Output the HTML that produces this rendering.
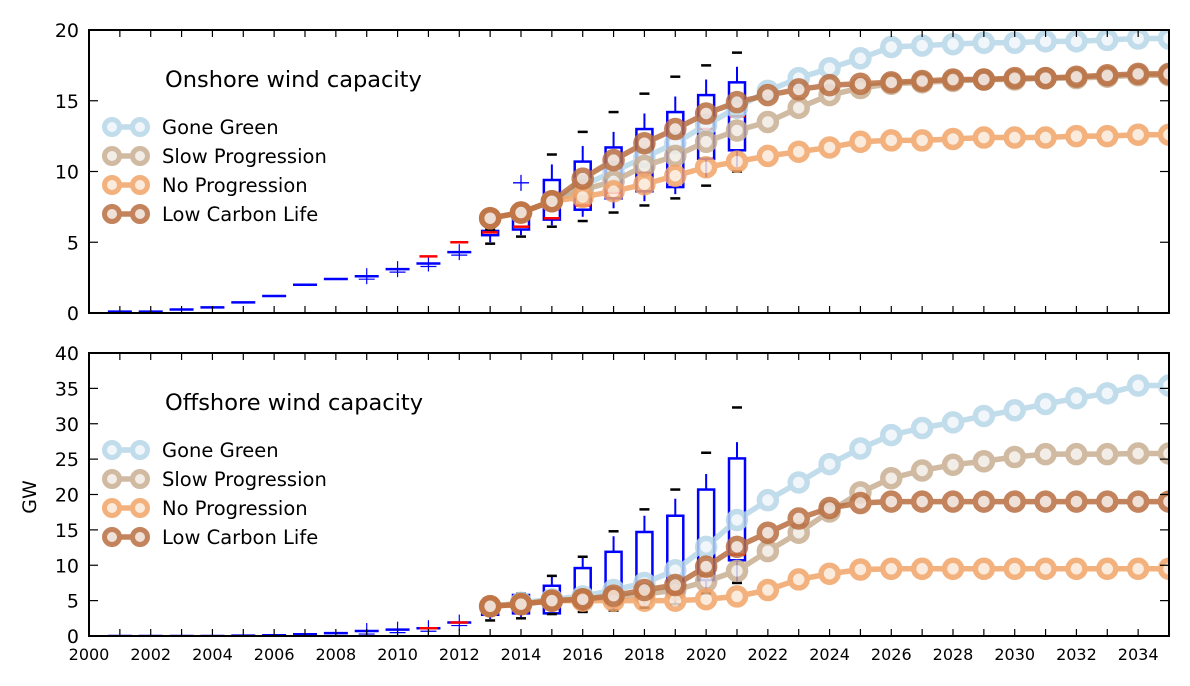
<!DOCTYPE html>
<html><head><meta charset="utf-8"><style>
body{margin:0;background:#fff;}
svg{display:block;font-family:"DejaVu Sans","Liberation Sans",sans-serif;}
</style></head><body>
<svg id="c" width="1190" height="686" viewBox="0 0 1190 686"></svg>
<script>
const years = [2013,2014,2015,2016,2017,2018,2019,2020,2021,2022,2023,2024,2025,2026,2027,2028,2029,2030,2031,2032,2033,2034,2035];
const seriesNames = ["Gone Green","Slow Progression","No Progression","Low Carbon Life"];
const onGG  = [6.7,7.1,7.9,9.0,10.0,11.0,12.0,13.3,14.5,15.7,16.6,17.3,18.0,18.8,18.9,19.0,19.1,19.1,19.2,19.2,19.3,19.4,19.4];
const onSP  = [6.7,7.1,7.9,8.7,9.3,10.4,11.1,12.1,12.9,13.5,14.5,15.4,15.9,16.2,16.3,16.4,16.5,16.5,16.6,16.6,16.7,16.8,16.8];
const onNP  = [6.7,7.1,7.9,8.2,8.6,9.1,9.7,10.3,10.7,11.1,11.4,11.7,12.1,12.2,12.2,12.3,12.4,12.4,12.4,12.5,12.5,12.6,12.6];
const onLCL = [6.7,7.1,7.9,9.5,10.8,12.0,13.0,14.1,14.9,15.4,15.8,16.1,16.2,16.3,16.4,16.5,16.5,16.6,16.6,16.7,16.8,16.9,16.9];
const offGG  = [4.2,4.7,5.2,5.6,6.5,7.5,9.3,12.6,16.4,19.2,21.7,24.3,26.5,28.4,29.4,30.2,31.1,31.9,32.8,33.6,34.3,35.4,35.4];
const offSP  = [4.2,4.5,5.0,5.2,5.5,5.9,6.5,7.7,9.2,12.0,14.6,17.6,20.3,22.3,23.4,24.2,24.7,25.3,25.7,25.7,25.7,25.8,25.8];
const offNP  = [4.2,4.5,5.0,5.0,5.0,5.0,5.0,5.2,5.6,6.5,8.0,8.8,9.4,9.5,9.5,9.5,9.5,9.5,9.5,9.5,9.5,9.5,9.5];
const offLCL = [4.2,4.5,5.0,5.2,5.7,6.5,7.2,9.8,12.6,14.6,16.6,18.1,18.8,19.0,19.0,19.0,19.0,19.0,19.0,19.0,19.0,19.0,19.0];
// boxplots
const boxYears = [2013,2014,2015,2016,2017,2018,2019,2020,2021];
const onQ1  = [5.5,5.9,6.6,7.3,8.1,8.6,8.9,10.9,11.5];
const onQ3  = [5.8,6.7,9.4,10.7,11.7,13.0,14.2,15.4,16.3];
const onMed = [5.7,6.1,6.7,7.6,8.5,9.9,11.5,13.0,13.9];
const onWLo = [5.0,5.5,6.2,6.8,7.4,7.9,8.4,9.6,10.3];
const onWHi = [6.0,7.2,10.5,11.8,12.8,14.1,15.3,16.5,17.4];
const onMin = [4.9,5.4,6.1,6.5,7.1,7.6,8.1,9.0,10.0];
const onMax = [5.9,7.5,11.2,12.8,14.2,15.5,16.7,17.5,18.4];
const offQ1  = [3.0,3.2,3.2,5.0,5.0,5.5,6.0,7.9,10.7];
const offQ3  = [4.0,5.8,7.1,9.6,11.9,14.7,17.0,20.7,25.1];
const offMed = [3.4,4.5,5.0,5.2,5.5,6.0,6.8,8.5,11.5];
const offWLo = [2.4,2.7,3.2,3.5,3.7,4.0,4.5,6.0,7.6];
const offWHi = [4.6,6.0,8.5,11.2,14.1,17.0,19.4,22.9,27.4];
const offMin = [2.2,2.5,3.1,3.4,3.6,4.0,4.5,6.0,7.5];
const offMax = [4.6,6.0,8.5,11.2,14.8,17.9,20.7,25.9,32.3];
// historic
const histYears = [2001,2002,2003,2004,2005,2006,2007,2008,2009,2010,2011,2012];
const onHist  = [0.1,0.1,0.25,0.4,0.75,1.2,2.0,2.4,2.6,3.1,3.5,4.3];
const onHistRed = [null,null,null,null,null,null,null,null,null,null,4.0,5.0];
const offHist = [0,0,0,0,0.05,0.1,0.25,0.4,0.7,0.9,1.1,1.9];
const offHistRed = [null,null,null,null,null,null,null,null,null,null,1.1,1.9];
const xTicks = [2000,2002,2004,2006,2008,2010,2012,2014,2016,2018,2020,2022,2024,2026,2028,2030,2032,2034];
const onYTicks = [0,5,10,15,20];
const offYTicks = [0,5,10,15,20,25,30,35,40];

const NS="http://www.w3.org/2000/svg";
const svg=document.getElementById('c');
const X0=89,X1=1169;
const xs=y=>X0+(y-2000)*(X1-X0)/35;
function mk(t,a,p){const e=document.createElementNS(NS,t);for(const k in a)e.setAttribute(k,a[k]);(p||svg).appendChild(e);return e;}
const colors=["#b7d6e8","#c8ae92","#f2a468","#b96e40"];
const fills=["#eef5fa","#f2ebe3","#fbe8d8","#eddcd2"];

function panel(name,top,bot,ymax,ticks,series,Q1,Q3,Med,WLo,WHi,Mn,Mx,hist,histRed,title,showX){
  const g=mk('g',{});
  
  
  const ys=v=>bot-(v/ymax)*(bot-top);
  const clipId='clip-'+name;
  const cp=mk('clipPath',{id:clipId},g);mk('rect',{x:X0,y:top,width:X1-X0,height:bot-top},cp);
  const pg=mk('g',{'clip-path':'url(#'+clipId+')'},g);
  histYears.forEach((yr,i)=>{
    const x=xs(yr),y=ys(hist[i]);
    const l=mk('line',{x1:x-12,x2:x+12,y1:y,y2:y,stroke:'#0000ff','stroke-width':2.5},pg);
    
    
    if(yr>=2009){mk('line',{x1:x,x2:x,y1:y-8,y2:y+8,stroke:'#0000ff','stroke-width':1.2},pg);mk('line',{x1:x-8,x2:x+8,y1:y+3,y2:y+3,stroke:'#0000ff','stroke-width':1.2},pg);}
    if(histRed[i]!=null){const yr2=ys(histRed[i]);mk('line',{x1:x-9,x2:x+9,y1:yr2,y2:yr2,stroke:'#ff0000','stroke-width':2.5},pg);}
  });
  boxYears.forEach((yr,i)=>{
    const x=xs(yr),w=16;
    const bg=mk('g',{},pg);
    
    
    mk('line',{x1:x,x2:x,y1:ys(WHi[i]),y2:ys(Q3[i]),stroke:'#0000ff','stroke-width':2},bg);
    mk('line',{x1:x,x2:x,y1:ys(WLo[i]),y2:ys(Q1[i]),stroke:'#0000ff','stroke-width':2},bg);
    mk('rect',{x:x-w/2,y:ys(Q3[i]),width:w,height:Math.max(2,ys(Q1[i])-ys(Q3[i])),fill:'none',stroke:'#0000ff','stroke-width':2.5},bg);
    mk('line',{x1:x-w/2,x2:x+w/2,y1:ys(Med[i]),y2:ys(Med[i]),stroke:'#ff0000','stroke-width':2.5},bg);
    mk('line',{x1:x-5,x2:x+5,y1:ys(Mx[i]),y2:ys(Mx[i]),stroke:'#000','stroke-width':2.5},bg);
    mk('line',{x1:x-5,x2:x+5,y1:ys(Mn[i]),y2:ys(Mn[i]),stroke:'#000','stroke-width':2.5},bg);
  });
  if(name==='onshore'){const x=xs(2014),y=ys(9.2);mk('path',{d:`M${x-8} ${y}H${x+8}M${x} ${y-8}V${y+8}`,stroke:'#0000ff','stroke-width':1.3},pg);}
  series.forEach((s,k)=>{
    const sg=mk('g',{opacity:0.85},pg);
    
    
    mk('polyline',{points:years.map((yr,i)=>xs(yr)+','+ys(s[i])).join(' '),fill:'none',stroke:colors[k],'stroke-width':5.5},sg);
    years.forEach((yr,i)=>{const c=mk('circle',{cx:xs(yr),cy:ys(s[i]),r:8.5,fill:fills[k],stroke:colors[k],'stroke-width':5.5},sg);
      
      });
  });
  mk('rect',{x:X0,y:top,width:X1-X0,height:bot-top,fill:'none',stroke:'#000','stroke-width':2},g);
  for(let yr=2001;yr<=2034;yr++){const x=xs(yr);
    mk('line',{x1:x,x2:x,y1:bot,y2:bot-7,stroke:'#000','stroke-width':1.2},g);
    mk('line',{x1:x,x2:x,y1:top,y2:top+7,stroke:'#000','stroke-width':1.2},g);}
  ticks.forEach(v=>{const y=ys(v);
    mk('line',{x1:X0,x2:X0+9,y1:y,y2:y,stroke:'#000','stroke-width':1.2},g);
    mk('line',{x1:X1,x2:X1-9,y1:y,y2:y,stroke:'#000','stroke-width':1.2},g);
    const t=mk('text',{x:X0-10,y:y+7,'text-anchor':'end','font-size':19},g);t.textContent=v;
    
    });
  if(showX){xTicks.forEach(v=>{const t=mk('text',{x:xs(v),y:bot+24,'text-anchor':'middle','font-size':16},g);t.textContent=v;
    
    });}
  const tt=mk('text',{x:165,y:top+57,'font-size':22.5},g);tt.textContent=title;
  
  
  seriesNames.forEach((n,k)=>{
    const ly=top+97+k*29;
    const lg=mk('g',{opacity:0.85},g);
    
    
    mk('line',{x1:112,x2:140,y1:ly,y2:ly,stroke:colors[k],'stroke-width':5.5},lg);
    mk('circle',{cx:112,cy:ly,r:7.5,fill:fills[k],stroke:colors[k],'stroke-width':5},lg);
    mk('circle',{cx:140,cy:ly,r:7.5,fill:fills[k],stroke:colors[k],'stroke-width':5},lg);
    const t=mk('text',{x:162,y:ly+7,'font-size':19.5},g);t.textContent=n;
  });
}
panel('onshore',30,313,20,onYTicks,[onGG,onSP,onNP,onLCL],onQ1,onQ3,onMed,onWLo,onWHi,onMin,onMax,onHist,onHistRed,'Onshore wind capacity',false);
panel('offshore',353,636,40,offYTicks,[offGG,offSP,offNP,offLCL],offQ1,offQ3,offMed,offWLo,offWHi,offMin,offMax,offHist,offHistRed,'Offshore wind capacity',true);
const gw=mk('text',{x:36,y:497,'font-size':19,'text-anchor':'middle',transform:'rotate(-90 36 497)'});gw.textContent='GW';


</script>
</body></html>
